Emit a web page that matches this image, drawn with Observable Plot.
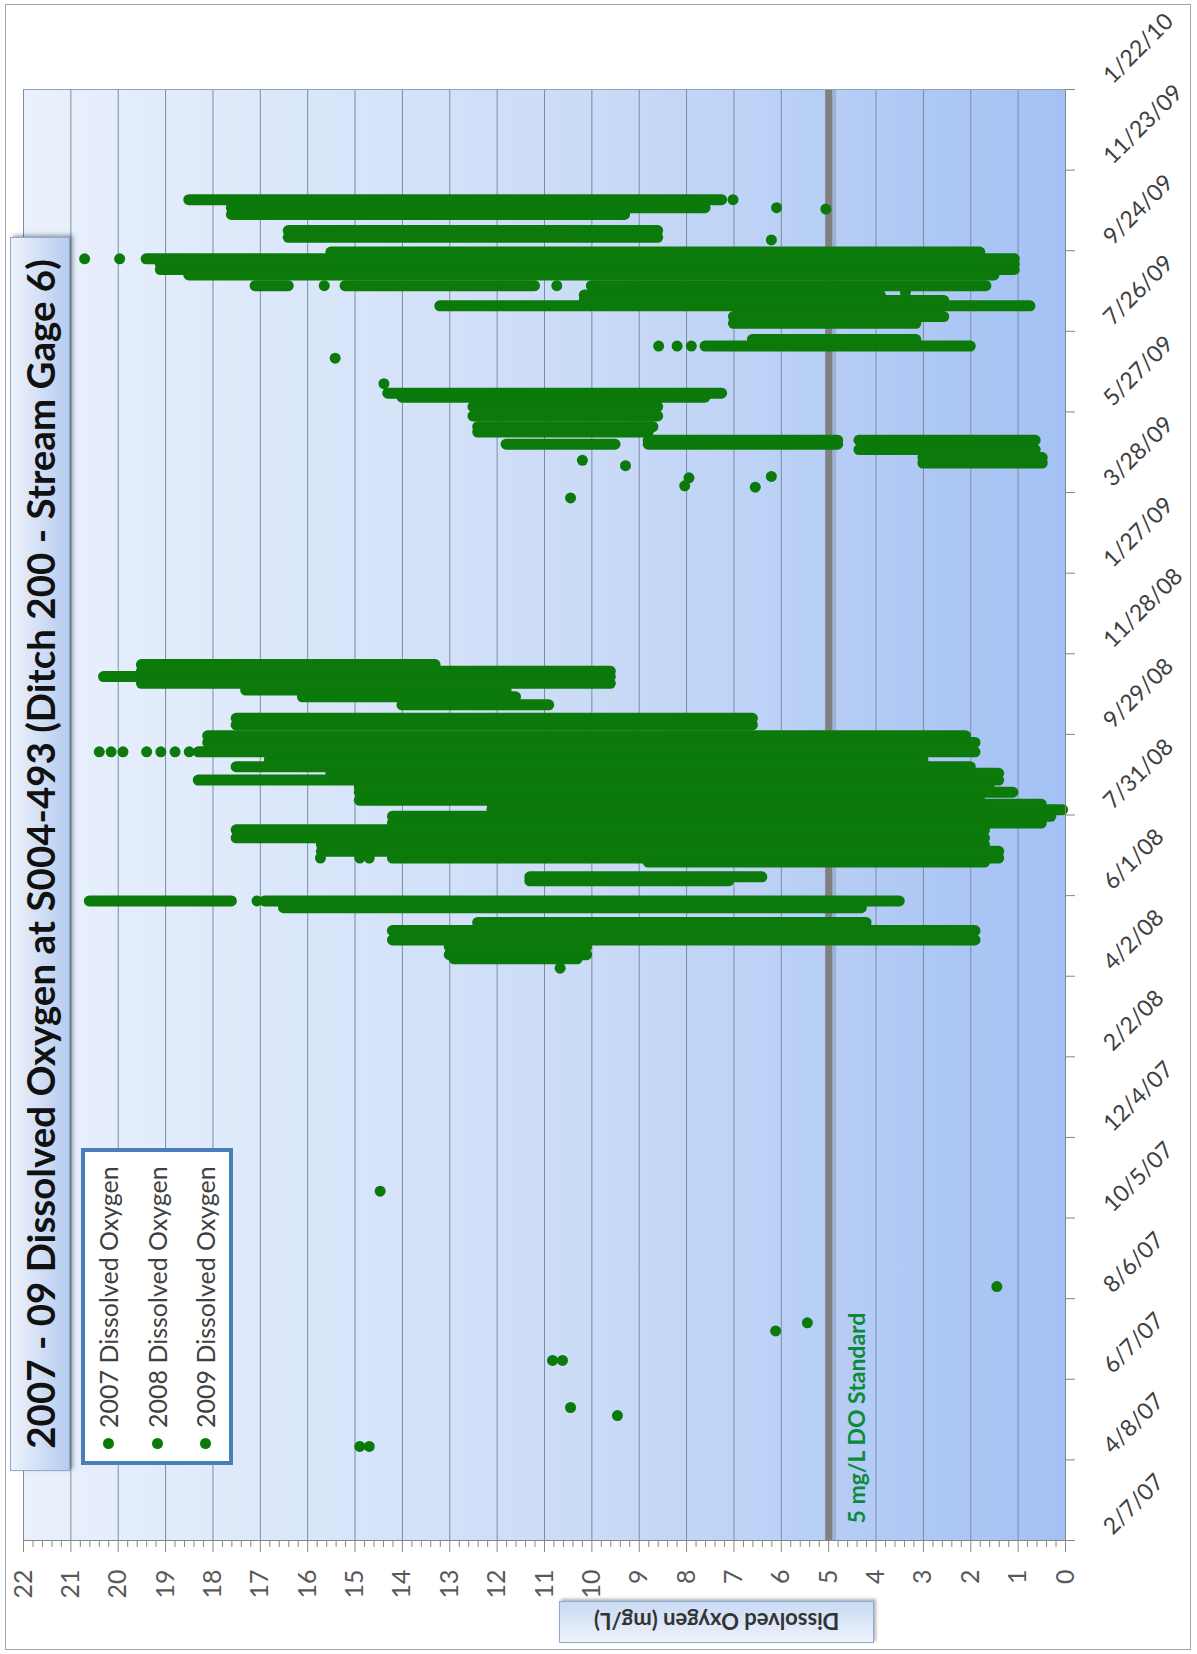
<!DOCTYPE html>
<html><head><meta charset="utf-8">
<script src="https://cdn.jsdelivr.net/npm/d3@7"></script>
<script src="https://cdn.jsdelivr.net/npm/@observablehq/plot@0.6"></script>
<style>
html,body{margin:0;padding:0;background:#fff;overflow:hidden;width:1197px;height:1654px;}
#rot{position:absolute;left:0;top:0;width:1654px;height:1197px;transform-origin:0 0;transform:translate(0px,1654px) rotate(-90deg);background:#fff;font-family:Lato,"Open Sans",sans-serif;}
#border{position:absolute;left:4px;top:5px;width:1644px;height:1184px;border:1.5px solid #a6a6a6;}
#plot{position:absolute;left:0;top:0;}
#title{position:absolute;left:183px;top:10px;width:1232px;height:58px;border:1px solid #8ea9d4;background:linear-gradient(to bottom,#eef3fb,#b6cbef);box-shadow:2px 3px 4px rgba(0,0,0,.35);display:flex;align-items:center;justify-content:center;font-weight:bold;font-size:38.5px;color:#111;white-space:nowrap;}
#legend{position:absolute;left:189px;top:81px;width:309px;height:144px;border:4px solid #4a7ebb;background:#fff;}
.item{position:absolute;left:0;width:100%;height:40px;display:flex;align-items:center;font-size:25px;color:#404040;white-space:nowrap;}
.item .dot{width:11px;height:11px;border-radius:50%;background:#0a7a0a;margin-left:12px;margin-right:10px;}
#ytitle{position:absolute;left:11px;top:559px;width:40px;height:313px;border:1px solid #8ea9d4;background:linear-gradient(to right,#eef3fb,#c9daf3);box-shadow:2px 2px 3px rgba(0,0,0,.3);display:flex;align-items:center;justify-content:center;}
#ytitle span{writing-mode:vertical-rl;transform:rotate(180deg);font-weight:bold;font-size:22px;color:#333;white-space:nowrap;}
</style></head>
<body>
<div id="rot">
  <div id="border"></div>
  <div id="plot"></div>
  <div id="title"></div>
  <div id="legend"></div>
  <div id="ytitle"><span></span></div>
</div>
<script>
const titleText = "2007 - 09 Dissolved Oxygen at S004-493 (Ditch 200 - Stream Gage 6)";
const yTitle = "Dissolved Oxygen (mg/L)";
const seriesNames = ["2007 Dissolved Oxygen", "2008 Dissolved Oxygen", "2009 Dissolved Oxygen"];
const standardLabel = "5 mg/L DO Standard";
const standardValue = 5;
const yTicks = d3.range(0, 23);
const dateTickLabels = ["2/7/07","4/8/07","6/7/07","8/6/07","10/5/07","12/4/07","2/2/08","4/2/08","6/1/08","7/31/08","9/29/08","11/28/08","1/27/09","3/28/09","5/27/09","7/26/09","9/24/09","11/23/09","1/22/10"];

// Dense daily ranges (continuous logger readings) : date, highest value, lowest value
const streakDates = [
 "2008-04-15","2008-04-18","2008-04-24","2008-04-29","2008-05-06","2008-05-12","2008-05-23","2008-05-28","2008-05-28",
 "2008-06-12","2008-06-15","2008-06-26","2008-06-29","2008-07-04","2008-07-09","2008-07-14","2008-07-20","2008-07-25",
 "2008-07-30","2008-08-04","2008-08-08","2008-08-11","2008-08-17","2008-08-21","2008-08-26","2008-08-31","2008-09-05",
 "2008-09-10","2008-09-16","2008-09-23","2008-09-28","2008-10-06","2008-10-11","2008-10-21","2008-10-27","2008-11-01",
 "2008-11-06","2008-11-11","2008-11-15","2008-11-20",
 "2009-04-19","2009-04-23","2009-04-29","2009-05-03","2009-05-03","2009-05-06","2009-05-06","2009-05-12","2009-05-16",
 "2009-05-24","2009-05-31","2009-06-07","2009-06-10","2009-07-15","2009-07-20","2009-08-01","2009-08-06","2009-08-14",
 "2009-08-18","2009-08-22","2009-08-29","2009-08-29","2009-08-29","2009-09-06","2009-09-10","2009-09-14","2009-09-18",
 "2009-09-23","2009-10-04","2009-10-09","2009-10-21","2009-10-26","2009-11-01"
];
const streakHighs = [
 12.9,13.0,13.0,14.2,14.2,12.4,16.5,20.6,16.9,
 11.3,11.3,8.8,14.2,15.7,15.7,17.5,17.5,14.2,
 14.2,12.1,12.1,14.9,14.9,14.9,18.3,15.5,17.5,
 16.8,18.3,18.1,18.1,17.5,17.5,14.0,16.1,17.3,
 19.5,20.3,19.5,19.5,
 3.0,3.0,4.35,11.8,8.8,8.8,4.35,12.4,12.4,
 12.5,12.5,14.0,14.3,7.6,6.6,7.0,7.0,13.2,
 10.15,10.15,17.1,15.2,10.0,18.5,19.1,19.1,19.4,
 15.5,16.4,16.4,17.6,17.6,18.5
];
const streakLows = [
 10.3,10.1,10.1,1.9,1.9,4.2,4.3,17.6,3.5,
 7.1,6.4,1.7,1.4,1.4,1.7,1.7,1.7,0.5,
 0.3,0.05,0.5,1.8,1.1,1.6,1.4,1.4,2.0,
 3.0,1.9,1.9,2.1,6.6,6.6,10.9,11.6,11.8,
 9.6,9.6,9.6,13.3,
 0.48,0.48,0.63,9.5,4.8,4.8,0.63,8.8,8.7,
 8.6,8.6,7.6,7.25,2.0,3.15,3.15,2.56,0.74,
 2.56,3.9,16.4,11.2,1.67,1.5,1.07,1.07,1.07,
 1.8,8.6,8.6,9.3,7.6,7.25
];

// Individual readings
const dotDates = [
 "2007-04-18","2007-04-18","2007-05-11","2007-05-17","2007-06-21","2007-06-21","2007-07-13","2007-07-19","2007-08-15","2007-10-25",
 "2008-04-08","2008-05-28","2008-06-29","2008-06-29","2008-06-29",
 "2008-09-16","2008-09-16","2008-09-16","2008-09-16","2008-09-16","2008-09-16","2008-09-16",
 "2009-03-24","2009-04-01","2009-04-02","2009-04-08","2009-04-09","2009-04-17","2009-04-21","2009-05-06","2009-05-06",
 "2009-06-17","2009-07-06","2009-07-15","2009-07-15","2009-07-15","2009-08-24","2009-08-29","2009-08-29",
 "2009-09-18","2009-09-18","2009-10-02","2009-10-25","2009-10-26","2009-11-01"
];
const dotValues = [
 14.9,14.7,9.46,10.45,10.83,10.62,6.12,5.45,1.45,14.47,
 10.67,17.07,15.73,14.9,14.7,
 20.4,20.15,19.9,19.4,19.1,18.8,18.5,
 10.45,6.55,8.04,7.95,6.21,9.29,10.2,5.76,5.24,
 14.39,15.42,8.59,8.2,7.9,3.38,15.65,10.74,
 20.71,19.97,6.21,5.06,6.1,7.02
];

const green = "#0b7a0b";
const parseISO = d3.utcParse("%Y-%m-%d");
const parseTick = d3.utcParse("%m/%d/%y");
const streaks = streakDates.map((d, i) => ({date: parseISO(d), hi: streakHighs[i], lo: streakLows[i]}));
const points = dotDates.map((d, i) => ({date: parseISO(d), value: dotValues[i]}));
const dateTicks = dateTickLabels.map(parseTick);
const minorTicks = d3.range(0, 111).map(i => i / 5).filter(v => Math.abs(v - Math.round(v)) > 1e-6);

const svg = Plot.plot({
  width: 1654, height: 1197,
  marginLeft: 113, marginRight: 90, marginTop: 23, marginBottom: 132,
  style: {fontFamily: "Lato, 'Open Sans', sans-serif", background: "transparent", color: "#595959", overflow: "visible"},
  x: {type: "utc", domain: [dateTicks[0], dateTicks[dateTicks.length - 1]], label: null},
  y: {domain: [0, 22], label: null},
  marks: [
    Plot.frame({fill: "#c9daf7"}),
    Plot.gridY(d3.range(1, 23), {stroke: "#7d8ba3", strokeOpacity: 1, strokeWidth: 1}),
    Plot.ruleY([standardValue], {stroke: "#000", strokeOpacity: 0.13, strokeWidth: 9, dy: 3}),
    Plot.ruleY([standardValue], {stroke: "#808080", strokeWidth: 7}),
    Plot.text([standardLabel], {y: standardValue, frameAnchor: "left", text: d => d, dx: 17, dy: 20, lineAnchor: "top", textAnchor: "start", fill: "#0a8a3a", fontWeight: "bold", fontSize: 23}),
    Plot.ruleX(streaks, {x: "date", y1: "lo", y2: "hi", stroke: green, strokeWidth: 11, strokeLinecap: "round"}),
    Plot.dot(points, {x: "date", y: "value", r: 5.5, fill: green}),
    Plot.ruleX([dateTicks[dateTicks.length - 1]], {stroke: "#8ea2c4"}),
    Plot.ruleX([dateTicks[0]], {stroke: "#868686"}),
    Plot.ruleY([0], {stroke: "#868686"}),
    Plot.axisY(yTicks, {tickSize: 11, tickPadding: 18, fontSize: 25, stroke: "#868686", fill: "#595959", label: null}),
    Plot.axisY(minorTicks, {tickSize: 6, tickFormat: () => "", stroke: "#868686", label: null}),
    Plot.axisX(dateTicks, {tickSize: 10, tickFormat: () => "", stroke: "#868686", label: null}),
    Plot.text(dateTicks, {x: d => d, text: (d, i) => dateTickLabels[i], frameAnchor: "bottom", rotate: 45, textAnchor: "start", lineAnchor: "middle", dx: 10, dy: 42, fontSize: 23, fill: "#404040"})
  ]
});

// gradient fill of the plot area
const defs = d3.select(svg).insert("defs", ":first-child");
const grad = defs.append("linearGradient").attr("id", "bgGrad").attr("x1", 0).attr("y1", 0).attr("x2", 0).attr("y2", 1);
grad.append("stop").attr("offset", "0%").attr("stop-color", "#eaf1fc");
grad.append("stop").attr("offset", "55%").attr("stop-color", "#cadbf7");
grad.append("stop").attr("offset", "100%").attr("stop-color", "#a3c1f4");
const fr = svg.querySelector('[aria-label="frame"]');
const frRect = fr.tagName.toLowerCase() === "rect" ? fr : fr.querySelector("rect");
frRect.setAttribute("fill", "url(#bgGrad)");

document.getElementById("plot").appendChild(svg);
document.getElementById("title").textContent = titleText;
document.querySelector("#ytitle span").textContent = yTitle;
const legend = document.getElementById("legend");
const rowCenters = [23, 72, 120];
seriesNames.forEach((name, i) => {
  const div = document.createElement("div");
  div.className = "item";
  div.style.top = (rowCenters[i] - 20) + "px";
  div.innerHTML = '<div class="dot"></div><span></span>';
  div.querySelector("span").textContent = name;
  legend.appendChild(div);
});
</script>
</body></html>
